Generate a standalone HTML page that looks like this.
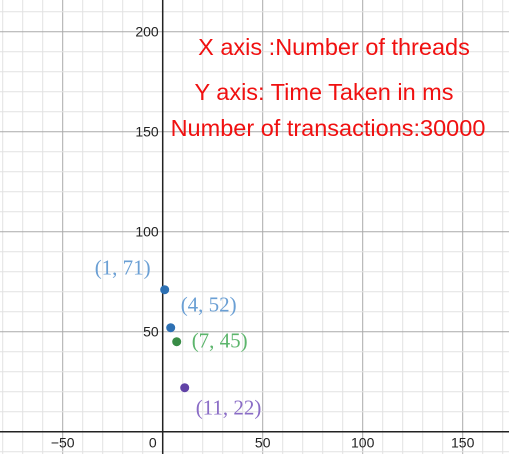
<!DOCTYPE html>
<html><head><meta charset="utf-8"><style>
html,body{margin:0;padding:0;background:#fff;}
svg{display:block;font-family:"Liberation Sans",sans-serif;}
</style></head><body>
<svg id="chart" width="509" height="454" viewBox="0 0 509 454"></svg>
<script>
const xs = [1, 4, 7, 11];
const ys = [71, 52, 45, 22];
const ptColors = ['#2d70b3', '#2d70b3', '#388c46', '#6042a6'];
const lblColors = ['#6a9fd4', '#6a9fd4', '#5cb56c', '#8a6cc6'];
const lblDx = [-70, 10, 15, 11];
const lblDy = [-15, -16, 6, 27];
const xTicks = [-50, 50, 100, 150];
const yTicks = [50, 100, 150, 200];
const notes = ['X axis :Number of threads', 'Y axis: Time Taken in ms', 'Number of transactions:30000'];

const W = 509, H = 454, ox = 162.7, oy = 431.7, k = 2;
const X = v => ox + v * k, Y = v => oy - v * k;
const svg = document.getElementById('chart');
const NS = 'http://www.w3.org/2000/svg';
function mk(tag, attrs, parent) {
  const e = document.createElementNS(NS, tag);
  for (const a in attrs) e.setAttribute(a, attrs[a]);
  (parent || svg).appendChild(e);
  return e;
}
const grid = mk('g', {});


for (let v = -90; v <= 180; v += 10) {
  const x = X(v); if (x < 0 || x > W) continue;
  mk('line', {x1: x, x2: x, y1: 0, y2: H, stroke: v % 50 === 0 ? '#aaa' : '#e2e2e2', 'stroke-width': 1}, grid);
}
for (let v = -20; v <= 230; v += 10) {
  const y = Y(v); if (y < 0 || y > H) continue;
  mk('line', {x1: 0, x2: W, y1: y, y2: y, stroke: v % 50 === 0 ? '#aaa' : '#e2e2e2', 'stroke-width': 1}, grid);
}
const xa = mk('line', {x1: 0, x2: W, y1: oy, y2: oy, stroke: '#222', 'stroke-width': 1.5});


const ya = mk('line', {x1: ox, x2: ox, y1: 0, y2: H, stroke: '#222', 'stroke-width': 1.5});


xTicks.forEach(v => {
  const t = mk('text', {x: X(v), y: oy + 16, 'text-anchor': 'middle', 'font-size': 14, fill: '#222'});
  t.textContent = v < 0 ? '\u2212' + (-v) : v;
  
  
});
const z = mk('text', {x: ox - 6, y: oy + 16, 'text-anchor': 'end', 'font-size': 14, fill: '#222'});
z.textContent = '0';


yTicks.forEach(v => {
  const t = mk('text', {x: ox - 4, y: Y(v) + 5, 'text-anchor': 'end', 'font-size': 14, fill: '#222'});
  t.textContent = v;
  
  
});
xs.forEach((v, i) => {
  const c = mk('circle', {cx: X(v), cy: Y(ys[i]), r: 4.5, fill: ptColors[i]});
  
  
  const t = mk('text', {x: X(v) + lblDx[i], y: Y(ys[i]) + lblDy[i], 'font-size': 21, fill: lblColors[i], 'font-family': '"Liberation Serif",serif'});
  t.textContent = '(' + v + ', ' + ys[i] + ')';
  
  
});
const nx = [334, 324, 328], ny = [55, 100, 136];
notes.forEach((s, i) => {
  const t = mk('text', {x: nx[i], y: ny[i], 'text-anchor': 'middle', 'font-size': 23.5, fill: '#f01010'});
  t.textContent = s;
  
  
});
</script>
</body></html>
